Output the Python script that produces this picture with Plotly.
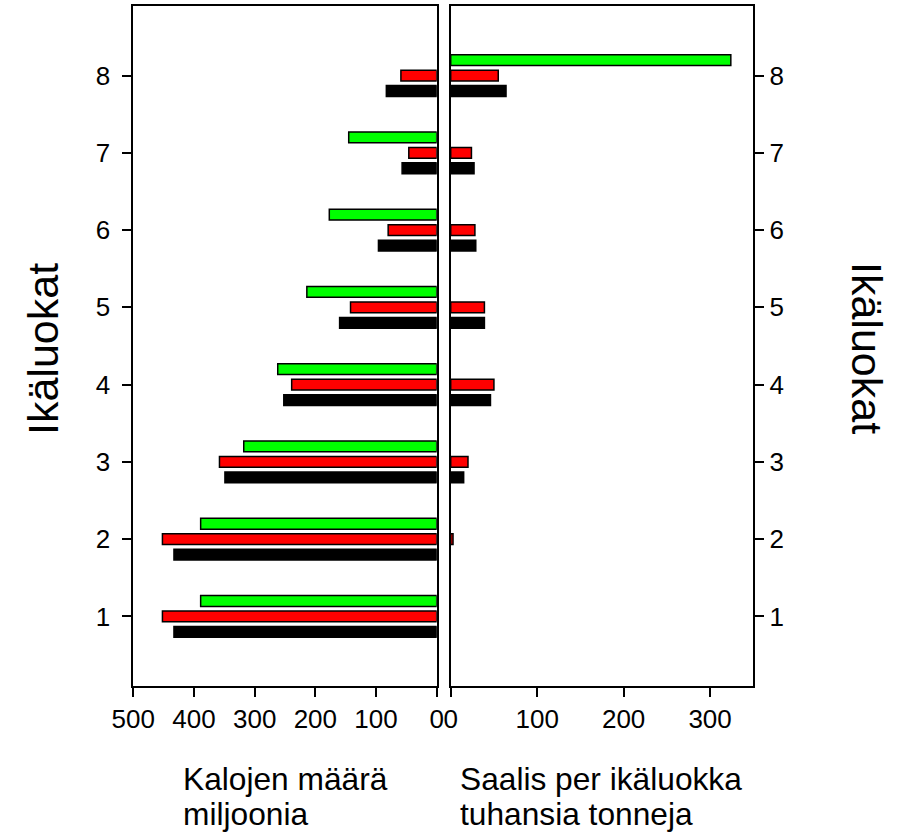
import plotly.graph_objects as go

# Age classes
ages = [1, 2, 3, 4, 5, 6, 7, 8]
y_ticks = [1, 2, 3, 4, 5, 6, 7, 8]

# Number of fish, millions (left panel)
fish_green = [389, 389, 318, 262, 214, 177, 145, None]
fish_red = [452, 452, 358, 239, 142, 80, 46, 59]
fish_black = [433, 433, 349, 252, 160, 96, 57, 83]

# Catch per age class, thousand tonnes (right panel)
catch_green = [None, None, None, None, None, None, None, 324]
catch_red = [None, 2.7, 20, 50, 39, 28, 24, 55]
catch_black = [None, None, 15, 46, 39, 29, 27, 64]

left_ticks = [500, 400, 300, 200, 100, 0]
right_ticks = [0, 100, 200, 300]

W, H = 902, 835
FONT = "Arial, Liberation Sans, sans-serif"
BAR_W = 0.14

fig = go.Figure()


def add_bars(xvals, color, offset, xa, ya):
    fig.add_trace(go.Bar(
        x=xvals, y=ages, orientation="h",
        width=BAR_W, offset=offset,
        marker=dict(color=color, line=dict(color="black", width=1.5)),
        xaxis=xa, yaxis=ya, showlegend=False, hoverinfo="x+y",
    ))


# green above, red centred, black below each age class
for vals, color, off in [(fish_green, "#00FF00", 0.13),
                         (fish_red, "#FF0000", -0.07),
                         (fish_black, "black", -0.27)]:
    add_bars(vals, color, off, "x", "y")

for vals, color, off in [(catch_green, "#00FF00", 0.13),
                         (catch_red, "#FF0000", -0.07),
                         (catch_black, "black", -0.27)]:
    add_bars(vals, color, off, "x2", "y2")

yr = [0.1, 8.9]
ydom = [1 - 686 / H, 1 - 6 / H]
axis_common = dict(showgrid=False, zeroline=False, showline=True, mirror=True,
                   linecolor="black", linewidth=2, ticks="outside", ticklen=9,
                   tickwidth=2, tickcolor="black", automargin=False,
                   tickfont=dict(family=FONT, size=26, color="black"))

fig.update_layout(
    width=W, height=H,
    margin=dict(l=0, r=0, t=0, b=0, autoexpand=False),
    paper_bgcolor="white", plot_bgcolor="white",
    barmode="overlay",
    xaxis=dict(domain=[133.3 / W, 436.7 / W], range=[500, 0], tickvals=left_ticks,
               anchor="y", **axis_common),
    yaxis=dict(domain=ydom, range=yr, tickvals=y_ticks, anchor="x", side="left",
               ticklabelstandoff=7, **axis_common),
    xaxis2=dict(domain=[450.7 / W, 753.3 / W], range=[0, 350], tickvals=right_ticks,
                anchor="y2", **axis_common),
    yaxis2=dict(domain=ydom, range=yr, tickvals=y_ticks, anchor="x2", side="right",
                **axis_common),
)

ann_font = dict(family=FONT, size=43, color="black")
fig.add_annotation(text="Ikäluokat", x=43 / W, y=1 - 349 / H, xref="paper", yref="paper",
                   textangle=-90, showarrow=False, font=ann_font,
                   xanchor="center", yanchor="middle")
fig.add_annotation(text="Ikäluokat", x=867 / W, y=1 - 348 / H, xref="paper", yref="paper",
                   textangle=90, showarrow=False, font=ann_font,
                   xanchor="center", yanchor="middle")

lab_font = dict(family=FONT, size=31.7, color="black")
for txt, x0, yc in [("Kalojen määrä", 181, 779), ("miljoonia", 181, 814),
                    ("Saalis per ikäluokka", 458, 779), ("tuhansia tonneja", 458, 814)]:
    fig.add_annotation(text=txt, x=x0 / W, y=1 - yc / H, xref="paper", yref="paper",
                       showarrow=False, font=lab_font, xanchor="left", yanchor="middle",
                       align="left")

fig.write_html("out.html")
